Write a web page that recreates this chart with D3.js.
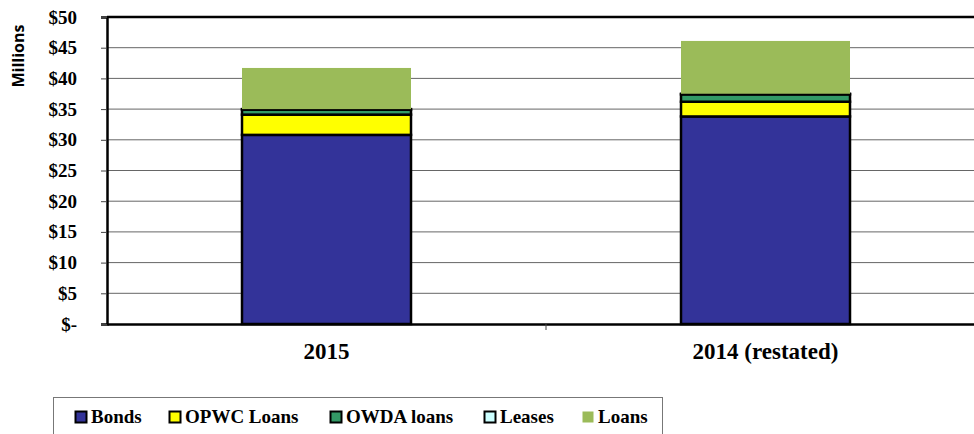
<!DOCTYPE html>
<html>
<head>
<meta charset="utf-8">
<script src="https://cdn.jsdelivr.net/npm/d3@7"></script>
</head>
<body style="margin:0;background:#fff">
<svg id="chart" width="974" height="434"></svg>
<script>
const categories = ['2015', '2014 (restated)'];
const seriesNames = ['Bonds', 'OPWC Loans', 'OWDA loans', 'Leases', 'Loans'];
const bonds = [30.8, 33.8];
const opwcLoans = [3.3, 2.4];
const owdaLoans = [0.8, 1.2];
const leases = [0.1, 0.1];
const loans = [6.7, 8.6];
const yTicks = [0, 5, 10, 15, 20, 25, 30, 35, 40, 45, 50];
const colors = ['#333399', '#ffff00', '#339966', '#ccffff', '#9bbb59'];

const svg = d3.select('#chart');
const margin = { left: 107, top: 17, right: 985, bottom: 324 };

const rows = categories.map((c, i) => ({
  cat: c,
  'Bonds': bonds[i], 'OPWC Loans': opwcLoans[i], 'OWDA loans': owdaLoans[i],
  'Leases': leases[i], 'Loans': loans[i]
}));
const stacked = d3.stack().keys(seriesNames)(rows);

const x = d3.scaleBand().domain(categories).range([margin.left, margin.right]);
const y = d3.scaleLinear().domain([0, 50]).range([margin.bottom, margin.top]);
const barW = 169;

// gridlines
svg.append('g').selectAll('line').data(yTicks.filter(d => d > 0 && d < 50)).join('line')
  .attr('x1', margin.left).attr('x2', 974)
  .attr('y1', d => y(d)).attr('y2', d => y(d))
  .attr('stroke', '#666').attr('stroke-width', 1);

// bars
stacked.forEach((s, si) => {
  svg.append('g').selectAll('rect').data(s).join('rect')
    .attr('x', d => x(d.data.cat) + x.bandwidth() / 2 - barW / 2)
    .attr('y', d => y(d[1]))
    .attr('width', barW)
    .attr('height', d => y(d[0]) - y(d[1]))
    .attr('fill', colors[si])
    .attr('stroke', si === 4 ? 'none' : '#000')
    .attr('stroke-width', 2.5);
});

// top border
svg.append('line').attr('x1', margin.left).attr('x2', 974)
  .attr('y1', margin.top).attr('y2', margin.top).attr('stroke', '#000').attr('stroke-width', 2.5);

// y axis
const yAxis = d3.axisLeft(y).tickValues(yTicks).tickSize(6).tickPadding(24)
  .tickFormat(d => d === 0 ? '$-' : '$' + d);
const ya = svg.append('g').attr('transform', `translate(${margin.left},0)`).call(yAxis)
  .attr('font-family', 'Liberation Serif').attr('font-weight', 'bold').attr('font-size', 19);
ya.select('.domain').attr('stroke', '#000').attr('stroke-width', 2.5);
ya.selectAll('.tick line').attr('stroke', '#444');
ya.selectAll('.tick text').attr('fill', '#000');

// x axis
const xa = svg.append('g').attr('transform', `translate(0,${margin.bottom})`)
  .call(d3.axisBottom(x).tickSize(0).tickPadding(19))
  .attr('font-family', 'Liberation Serif').attr('font-weight', 'bold').attr('font-size', 23);
xa.select('.domain').attr('stroke', '#000').attr('stroke-width', 2.5);
xa.selectAll('.tick text').attr('fill', '#000');
xa.selectAll('.sep').data([categories[1]]).join('line').attr('class', 'sep')
  .attr('x1', d => x(d)).attr('x2', d => x(d)).attr('y1', 0).attr('y2', 6)
  .attr('stroke', '#444');

// y label
svg.append('text').attr('transform', 'translate(24,56) rotate(-90)')
  .attr('text-anchor', 'middle')
  .attr('font-family', 'Open Sans').attr('font-weight', 'bold').attr('font-size', 16)
  .text('Millions');

// legend
const lg = svg.append('g')
  .attr('font-family', 'Liberation Serif').attr('font-weight', 'bold').attr('font-size', 19);
lg.append('rect').attr('x', 53.5).attr('y', 397.5).attr('width', 609).attr('height', 40)
  .attr('fill', '#fff').attr('stroke', '#777');
const legendX = [75, 169, 330, 484, 582];
seriesNames.forEach((n, i) => {
  lg.append('rect').attr('x', legendX[i] + 0.5).attr('y', 411.5).attr('width', 11).attr('height', 11)
    .attr('fill', colors[i]).attr('stroke', i === 4 ? 'none' : '#000').attr('stroke-width', 2);
  lg.append('text').attr('x', legendX[i] + 16).attr('y', 423).text(n);
});
</script>
</body>
</html>
